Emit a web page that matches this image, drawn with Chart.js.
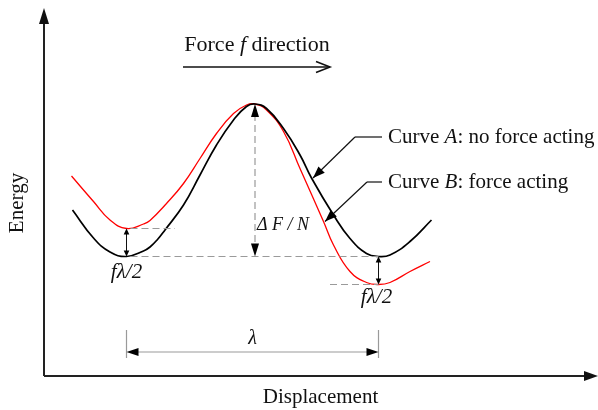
<!DOCTYPE html>
<html>
<head>
<meta charset="utf-8">
<script src="https://cdn.jsdelivr.net/npm/chart.js@4.4.0/dist/chart.umd.min.js"></script>
<style>
  html, body { margin: 0; padding: 0; background: #fff; }
  #wrap { width: 598px; height: 410px; }
</style>
</head>
<body>
<div id="wrap"><canvas id="chart" width="598" height="410"></canvas></div>
<script>
// Curve A: no force acting (displacement, energy in arbitrary units)
const displacementA = [5.7, 9.9, 13.2, 16.5, 19.9, 21.2, 22.7, 24.2, 27.9, 31.2, 34.5, 37.9, 40.5, 42.2, 44.5, 47.9, 51.2, 53.5, 57.9, 61.2, 64.5, 66.9, 69.2, 73.2, 77.5];
const energyA = [33.2, 27.6, 24.8, 23.9, 25.0, 25.8, 27.3, 29.2, 34.2, 40.2, 46.2, 51.2, 53.9, 54.4, 53.5, 49.5, 44.2, 39.6, 32.2, 27.5, 24.5, 23.9, 24.2, 26.9, 31.2];

// Curve B: force acting
const displacementB = [5.5, 9.9, 13.2, 16.5, 19.9, 21.2, 24.5, 27.9, 31.2, 34.5, 37.9, 40.5, 42.2, 44.5, 47.9, 51.2, 55.9, 57.9, 61.2, 64.5, 66.9, 69.2, 73.2, 77.2];
const energyB = [40.0, 34.9, 31.2, 29.5, 30.4, 31.1, 34.5, 38.5, 43.5, 48.5, 52.5, 54.2, 54.4, 53.2, 48.9, 41.5, 30.9, 26.2, 20.9, 18.7, 18.3, 18.7, 20.9, 22.9];

// text
const xTitle = 'Displacement';
const yTitle = 'Energy';
const forceLabel = [['Force ', false], ['f', true], [' direction', false]];
const calloutA = [['Curve ', false], ['A', true], [': no force acting', false]];
const calloutB = [['Curve ', false], ['B', true], [': force acting', false]];
const barrierLabel = 'Δ F / N';
const shiftLabel = 'fλ/2';
const periodLabel = 'λ';

// which data point each callout arrow points at
const calloutIndexA = 17;
const calloutIndexB = 16;

const SERIF = '"Liberation Serif", "Times New Roman", serif';

function toPoints(xs, ys) {
    return xs.map((x, i) => ({ x: x, y: ys[i] }));
}

function extremes(ys) {
    let peak = 0;
    ys.forEach((v, i) => { if (v > ys[peak]) peak = i; });
    let left = 0, right = peak;
    for (let i = 0; i < peak; i++) if (ys[i] < ys[left]) left = i;
    for (let i = peak; i < ys.length; i++) if (ys[i] < ys[right]) right = i;
    return { peak, left, right };
}

function arrowHead(ctx, tx, ty, angle, len, half, filled) {
    const bx = tx - len * Math.cos(angle);
    const by = ty - len * Math.sin(angle);
    const nx = -Math.sin(angle) * half;
    const ny = Math.cos(angle) * half;
    ctx.beginPath();
    ctx.moveTo(bx + nx, by + ny);
    ctx.lineTo(tx, ty);
    ctx.lineTo(bx - nx, by - ny);
    if (filled) {
        ctx.closePath();
        ctx.fill();
    } else {
        ctx.stroke();
    }
}

function line(ctx, x1, y1, x2, y2, dash) {
    ctx.save();
    ctx.setLineDash(dash || []);
    ctx.beginPath();
    ctx.moveTo(x1, y1);
    ctx.lineTo(x2, y2);
    ctx.stroke();
    ctx.restore();
}

// draw text made of plain / italic pieces, starting at x (or centred)
function richText(ctx, parts, x, y, size, centred) {
    const fontOf = it => (it ? 'italic ' : '') + size + 'px ' + SERIF;
    let total = 0;
    parts.forEach(p => { ctx.font = fontOf(p[1]); total += ctx.measureText(p[0]).width; });
    let cx = centred ? x - total / 2 : x;
    ctx.textAlign = 'left';
    ctx.textBaseline = 'middle';
    parts.forEach(p => {
        ctx.font = fontOf(p[1]);
        ctx.fillText(p[0], cx, y);
        cx += ctx.measureText(p[0]).width;
    });
}

const diagramPlugin = {
    id: 'diagram',
    afterDraw(chart) {
        const ctx = chart.ctx;
        const area = chart.chartArea;
        const sx = v => chart.scales.x.getPixelForValue(v);
        const sy = v => chart.scales.y.getPixelForValue(v);
        const a = extremes(energyA);
        const b = extremes(energyB);

        const xL = sx(displacementA[a.left]);
        const xR = sx(displacementA[a.right]);
        const xP = sx(displacementA[a.peak]);
        const yBase = sy(energyA[a.left]);
        const yPeak = sy(energyA[a.peak]);
        const yBLeft = sy(energyB[b.left]);
        const yBRight = sy(energyB[b.right]);

        ctx.save();

        // axes with arrows
        ctx.strokeStyle = '#222';
        ctx.fillStyle = '#111';
        ctx.lineWidth = 2;
        line(ctx, area.left, area.bottom, area.left, area.top + 6);
        line(ctx, area.left, area.bottom, chart.width - 4, area.bottom);
        arrowHead(ctx, area.left, area.top - 2, -Math.PI / 2, 16, 5, true);
        arrowHead(ctx, chart.width, area.bottom, 0, 14, 5, true);

        // dashed guide lines
        ctx.strokeStyle = '#9a9a9a';
        ctx.lineWidth = 1.2;
        const dash = [7, 4];
        line(ctx, xL + 4, yBase, xR, yBase, dash);
        line(ctx, xL + 4, yBLeft, sx(26.2), yBLeft, dash);
        line(ctx, sx(57.2), yBRight, xR, yBRight, dash);
        line(ctx, xP, yPeak + 10, xP, yBase - 10, dash);
        ctx.fillStyle = '#000';
        arrowHead(ctx, xP, yPeak, -Math.PI / 2, 13, 4, true);
        arrowHead(ctx, xP, yBase, Math.PI / 2, 13, 4, true);

        // fλ/2 shift arrows at the wells
        ctx.strokeStyle = '#111';
        ctx.lineWidth = 1;
        line(ctx, xL, yBLeft + 4, xL, yBase - 4);
        arrowHead(ctx, xL, yBLeft, -Math.PI / 2, 6, 2.8, true);
        arrowHead(ctx, xL, yBase, Math.PI / 2, 6, 2.8, true);
        line(ctx, xR, yBase + 4, xR, yBRight - 4);
        arrowHead(ctx, xR, yBase, -Math.PI / 2, 6, 2.8, true);
        arrowHead(ctx, xR, yBRight, Math.PI / 2, 6, 2.8, true);

        // period λ dimension
        const yDim = sy(4.8);
        ctx.strokeStyle = '#9a9a9a';
        ctx.lineWidth = 1.2;
        line(ctx, xL, sy(9.2), xL, sy(3.6));
        line(ctx, xR, sy(9.2), xR, sy(3.6));
        line(ctx, xL + 8, yDim, xR - 8, yDim);
        ctx.fillStyle = '#000';
        arrowHead(ctx, xL, yDim, Math.PI, 12, 4, true);
        arrowHead(ctx, xR, yDim, 0, 12, 4, true);

        // labels
        ctx.fillStyle = '#111';
        richText(ctx, [[periodLabel, true]], (xL + xR) / 2, sy(7.4), 20, true);
        richText(ctx, [[shiftLabel, true]], xL, sy(20.8), 21, true);
        richText(ctx, [[shiftLabel, true]], xR - 2, sy(15.8), 21, true);
        richText(ctx, [[barrierLabel, true]], xP + 28, sy(30.2), 18, true);

        // force direction
        richText(ctx, forceLabel, sx(42.6), sy(66.2), 22, true);
        ctx.strokeStyle = '#111';
        ctx.lineWidth = 1.6;
        line(ctx, sx(27.8), sy(61.8), sx(57.2), sy(61.8));
        arrowHead(ctx, sx(57.2), sy(61.8), 0, 14, 5.5, false);

        // callouts
        const callouts = [
            { parts: calloutA, tip: [displacementA[calloutIndexA], energyA[calloutIndexA]], elbow: [62.2, 47.8], end: [67.6, 47.8] },
            { parts: calloutB, tip: [displacementB[calloutIndexB], energyB[calloutIndexB]], elbow: [64.6, 38.8], end: [67.6, 38.8] }
        ];
        callouts.forEach(c => {
            const tx = sx(c.tip[0]) + 1.5, ty = sy(c.tip[1]);
            const ex = sx(c.elbow[0]), ey = sy(c.elbow[1]);
            ctx.strokeStyle = '#111';
            ctx.fillStyle = '#000';
            ctx.lineWidth = 1.2;
            line(ctx, sx(c.end[0]), ey, ex, ey);
            line(ctx, ex, ey, tx, ty);
            arrowHead(ctx, tx, ty, Math.atan2(ty - ey, tx - ex), 12, 4.5, true);
            ctx.fillStyle = '#111';
            richText(ctx, c.parts, sx(c.end[0]) + 6, ey, 21, false);
        });

        // axis titles
        richText(ctx, [[xTitle, false]], sx(55.3), chart.height - 13, 21, true);
        ctx.save();
        ctx.translate(17, sy(34.6));
        ctx.rotate(-Math.PI / 2);
        richText(ctx, [[yTitle, false]], 0, 0, 21, true);
        ctx.restore();

        ctx.restore();
    }
};

const chart = new Chart(document.getElementById('chart'), {
    type: 'scatter',
    data: {
        datasets: [
            {
                label: 'Curve A',
                data: toPoints(displacementA, energyA),
                showLine: true,
                borderColor: '#000',
                borderWidth: 1.7,
                pointRadius: 0,
                tension: 0.45,
                cubicInterpolationMode: 'default'
            },
            {
                label: 'Curve B',
                data: toPoints(displacementB, energyB),
                showLine: true,
                borderColor: '#ff0000',
                borderWidth: 1.3,
                pointRadius: 0,
                tension: 0.45,
                cubicInterpolationMode: 'default'
            }
        ]
    },
    options: {
        responsive: false,
        animation: false,
        layout: { padding: { left: 44, right: 4, top: 10, bottom: 34 } },
        plugins: {
            legend: { display: false },
            tooltip: { enabled: false }
        },
        scales: {
            x: { type: 'linear', min: 0, max: 110, display: false },
            y: { type: 'linear', min: 0, max: 73.2, display: false }
        }
    },
    plugins: [diagramPlugin]
});
</script>
</body>
</html>
